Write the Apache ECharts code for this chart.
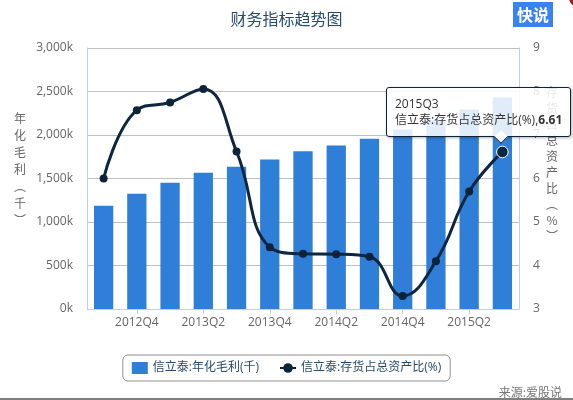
<!DOCTYPE html>
<html>
<head>
<meta charset="utf-8">
<script src="https://cdn.jsdelivr.net/npm/echarts@6/dist/echarts.min.js"></script>
<style>
html,body{margin:0;padding:0;background:#fff;}
#c{width:573px;height:400px;}
</style>
</head>
<body>
<div id="c"></div>
<script>
var categories = ['2012Q3','2012Q4','2013Q1','2013Q2','2013Q3','2013Q4','2014Q1','2014Q2','2014Q3','2014Q4','2015Q1','2015Q2','2015Q3'];
var grossProfit = [1187000,1325000,1452000,1567000,1636000,1717000,1812000,1878000,1958000,2062000,2170000,2293000,2431000];
var inventoryRatio = [6.00,7.57,7.75,8.06,6.62,4.42,4.27,4.26,4.20,3.30,4.10,5.70,6.61];
var leftTicks = {min:0, max:3000000, interval:500000};
var rightTicks = {min:3, max:9, interval:1};
var seriesNames = ['信立泰:年化毛利(千)','信立泰:存货占总资产比(%)'];

var FONT = '"Open Sans","Noto Sans CJK SC",sans-serif';
var chart = echarts.init(document.getElementById('c'), null, {renderer:'canvas'});
var tipIndex = 12;

var option = {
  animation:false,
  title:{
    text:'财务指标趋势图', left:'center', top:7,
    textStyle:{color:'#274b6d', fontSize:16, fontWeight:'normal', fontFamily:FONT}
  },
  grid:{left:87, right:54, top:48, bottom:91},
  legend:{
    top:355, left:'center',
    padding:[7,9], itemGap:20, itemWidth:16, itemHeight:12,
    borderColor:'#909090', borderWidth:1, borderRadius:5,
    textStyle:{color:'#274b6d', fontSize:12, fontFamily:FONT},
    data:[{name:seriesNames[0], icon:'rect'},{name:seriesNames[1]}]
  },
  tooltip:{
    trigger:'item', alwaysShowContent:true, transitionDuration:0, confine:false,
    backgroundColor:'rgba(255,255,255,0.85)', borderColor:'#0d233a', borderWidth:1,
    padding:[8,8],
    extraCssText:'border-radius:3px;box-shadow:1px 1px 3px rgba(0,0,0,0.3);',
    position:function(){ return [386, 87]; },
    formatter:function(p){
      return '<div style="min-width:163px;font-family:'+FONT.replace(/"/g,"'")+';font-size:12px;line-height:16px;color:#333;white-space:nowrap;">'+
        categories[p.dataIndex]+'<br/>'+p.seriesName+',<b>'+p.value+'</b></div>'+
        '<div style="position:absolute;left:109px;bottom:-6px;width:9px;height:9px;background:#fff;border-right:1px solid #0d233a;border-bottom:1px solid #0d233a;transform:rotate(45deg);"></div>';
    }
  },
  xAxis:{
    type:'category', data:categories,
    axisLine:{lineStyle:{color:'#C0D0E0'}},
    axisTick:{show:true, alignWithLabel:true, length:5, interval:function(i){return i%2===1;}, lineStyle:{color:'#C0D0E0'}},
    axisLabel:{interval:function(i){return i%2===1;}, color:'#666', fontSize:12, margin:8, fontFamily:FONT},
    splitLine:{show:false}
  },
  yAxis:[{
    type:'value', min:leftTicks.min, max:leftTicks.max, interval:leftTicks.interval,
    axisLine:{show:true, lineStyle:{color:'#C0D0E0'}},
    axisTick:{show:false},
    axisLabel:{color:'#666', fontSize:12, margin:14, fontFamily:FONT,
      formatter:function(v){ return (v/1000).toLocaleString('en-US')+'k'; }},
    splitLine:{show:true, lineStyle:{color:'#C0C0C0'}}
  },{
    type:'value', min:rightTicks.min, max:rightTicks.max, interval:rightTicks.interval,
    position:'right',
    axisLine:{show:true, lineStyle:{color:'#C0D0E0'}},
    axisTick:{show:false},
    axisLabel:{color:'#666', fontSize:12, margin:14, fontFamily:FONT},
    splitLine:{show:false}
  }],
  series:[{
    name:seriesNames[0], type:'bar', data:grossProfit, yAxisIndex:0,
    barWidth:'58%', itemStyle:{color:'#2f7ed8'},
    emphasis:{disabled:true}
  },{
    name:seriesNames[1], type:'line', data:inventoryRatio, yAxisIndex:1,
    smooth:0.45, symbol:'circle', symbolSize:8, z:5,
    lineStyle:{color:'#0d233a', width:3},
    itemStyle:{color:'#0d233a'},
    emphasis:{scale:1.45, focus:'none', lineStyle:{width:3}, itemStyle:{borderColor:'#fff', borderWidth:1}}
  }],
  graphic:[
    {type:'text', x:20, y:169, style:{text:'年\n化\n毛\n利\n︵\n千\n︶', lineHeight:17, fill:'#666', font:'12px "Noto Sans CJK SC",sans-serif', align:'center', verticalAlign:'middle'}},
    {type:'text', x:552, y:164, z:1, style:{text:'存\n货\n占\n总\n资\n产\n比\n︵\n%\n︶', lineHeight:16, fill:'#666', font:'12px "Noto Sans CJK SC",sans-serif', align:'center', verticalAlign:'middle'}},
    {type:'rect', shape:{x:513, y:2, width:40, height:25}, style:{fill:'#3b82f0'}},
    {type:'text', x:533, y:14.5, style:{text:'快说', fill:'#fff', font:'bold 16px "Noto Sans CJK SC",sans-serif', align:'center', verticalAlign:'middle'}},
    {type:'circle', shape:{cx:577, cy:-2, r:8}, style:{fill:'#9a1f1a'}},
    {type:'text', x:562, y:392, style:{text:'来源:爱股说', fill:'#777', font:'12px "Noto Sans CJK SC",sans-serif', align:'right', verticalAlign:'middle'}},
    {type:'line', shape:{x1:0, y1:399, x2:573, y2:399}, style:{stroke:'#555', lineWidth:1.5}}
  ]
};
chart.setOption(option);
chart.dispatchAction({type:'highlight', seriesIndex:1, dataIndex:tipIndex});
chart.dispatchAction({type:'showTip', seriesIndex:1, dataIndex:tipIndex});
</script>
</body>
</html>
